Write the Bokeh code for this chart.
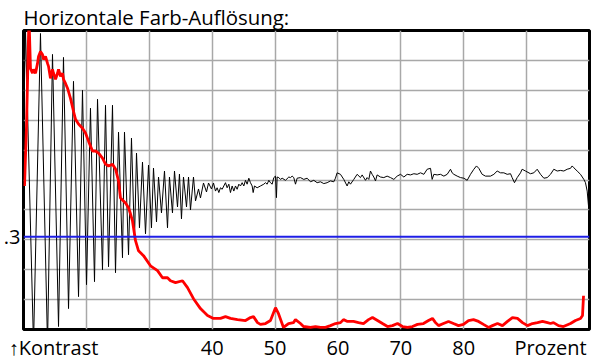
from bokeh.plotting import figure
from bokeh.models import Grid, FixedTicker, Span
from bokeh.embed import file_html
from bokeh.resources import INLINE

# ---- data (percent, contrast 0..1) ----
signal_x = [10.00, 10.32, 11.59, 12.70, 13.82, 14.61, 15.57, 16.36, 17.16, 17.95, 18.75, 19.38,
            20.02, 20.65, 21.29, 21.77, 22.56, 23.04, 23.52, 24.15, 24.63, 25.11, 25.74, 26.06,
            26.70, 27.17, 27.65, 27.97, 28.44, 28.92, 29.40, 29.88, 30.35, 30.67, 31.15, 31.47,
            31.94, 32.42, 32.90, 33.21, 33.69, 34.01, 34.49, 34.80, 35.12, 35.44, 35.92, 36.24,
            36.55, 37.03, 37.35, 37.83, 38.14, 38.62, 39.10, 39.42, 39.89, 40.21,
            40.53, 40.79, 41.06, 41.32, 41.59, 41.85, 42.12, 42.38, 42.65, 42.91, 43.18, 43.44,
            43.71, 43.97, 44.24, 44.50, 44.77, 45.03, 45.30, 45.56, 45.83, 46.09, 46.36, 46.52,
            46.73, 47.15, 47.68, 48.21, 48.48, 48.74, 49.01, 49.27, 49.54, 49.80, 50.07, 50.22,
            50.33, 50.60, 50.86, 51.13, 51.66, 52.19, 52.45, 52.72, 52.98, 53.25, 53.51, 54.04,
            54.57, 55.10, 55.63, 56.16, 56.69, 57.22, 57.75, 58.28, 58.81, 59.34, 59.60, 59.87,
            60.40, 60.93, 61.46, 61.73, 61.99, 62.52, 63.05, 63.58, 63.85, 64.38, 64.64, 64.91,
            65.17, 65.44, 65.70, 65.97, 66.23, 66.76, 67.29, 67.82,
            68.36, 68.89, 69.42, 69.95, 70.48, 71.01, 71.54, 72.07, 72.60, 73.13, 73.66, 74.19,
            74.72, 74.98, 75.25, 75.78, 76.31, 76.84, 77.37, 77.90, 78.16, 78.43, 78.96, 79.49,
            80.02, 80.55, 81.08, 81.61, 82.03, 82.40, 82.93, 83.46, 84.26, 84.79, 85.32, 85.85,
            86.38, 86.91, 87.44, 87.70, 88.07, 88.50, 89.03, 89.29, 89.82, 90.62, 91.15, 91.68,
            92.21, 92.74, 93.27, 93.80, 94.33, 94.86, 95.39, 95.92, 96.45, 96.98, 97.24, 97.51,
            98.04, 98.57, 99.10, 99.36, 99.63, 99.89]
signal_y = [0.66, 1.00, -0.05, 0.99, -0.05, 0.92, 0.01, 0.91, 0.07, 0.83, 0.11, 0.80,
            0.15, 0.74, 0.16, 0.77, 0.20, 0.75, 0.21, 0.75, 0.19, 0.66, 0.24, 0.66,
            0.25, 0.64, 0.30, 0.59, 0.34, 0.56, 0.32, 0.55, 0.34, 0.54, 0.36, 0.51,
            0.39, 0.53, 0.34, 0.51, 0.39, 0.53, 0.41, 0.52, 0.37, 0.51, 0.41, 0.51,
            0.40, 0.51, 0.43, 0.47, 0.44, 0.49, 0.46, 0.49, 0.47, 0.49,
            0.463, 0.474, 0.458, 0.474, 0.469, 0.480, 0.491, 0.474, 0.486, 0.458, 0.480, 0.463,
            0.480, 0.469, 0.486, 0.480, 0.491, 0.480, 0.499, 0.486, 0.506, 0.491, 0.480, 0.458,
            0.480, 0.474, 0.480, 0.486, 0.491, 0.486, 0.499, 0.491, 0.486, 0.508, 0.513, 0.441,
            0.510, 0.508, 0.502, 0.506, 0.499, 0.510, 0.508, 0.513, 0.508, 0.486, 0.506, 0.508,
            0.502, 0.506, 0.494, 0.499, 0.491, 0.494, 0.488, 0.491, 0.497, 0.494, 0.506, 0.524,
            0.519, 0.502, 0.480, 0.494, 0.486, 0.502, 0.519, 0.508, 0.517, 0.499, 0.508, 0.502,
            0.530, 0.519, 0.510, 0.497, 0.517, 0.510, 0.508, 0.513,
            0.508, 0.502, 0.513, 0.519, 0.510, 0.519, 0.517, 0.521, 0.519, 0.524, 0.519, 0.536,
            0.539, 0.502, 0.519, 0.517, 0.519, 0.513, 0.519, 0.536, 0.524, 0.519, 0.513, 0.508,
            0.506, 0.499, 0.519, 0.536, 0.547, 0.539, 0.519, 0.513, 0.513, 0.519, 0.530, 0.524,
            0.524, 0.519, 0.521, 0.508, 0.491, 0.508, 0.524, 0.536, 0.530, 0.521, 0.524, 0.536,
            0.519, 0.506, 0.508, 0.519, 0.536, 0.530, 0.532, 0.530, 0.536, 0.539, 0.547, 0.541,
            0.530, 0.519, 0.502, 0.491, 0.463, 0.402]

color_x = [10.16, 10.48, 10.87, 11.11, 11.43, 11.59, 11.91, 12.23, 12.39, 12.70, 13.02, 13.18,
           13.50, 13.82, 13.98, 14.29, 14.61, 14.77, 15.09, 15.41, 15.57, 15.88, 16.20, 16.36,
           16.68, 17.00, 17.47, 17.95, 18.27, 18.75, 19.38, 19.86, 20.34, 20.97, 21.45, 21.93,
           22.56, 23.04, 23.52, 24.15, 24.63, 25.11, 25.42, 26.22, 26.70, 27.01, 27.33, 27.81,
           28.29, 29.08, 30.19, 31.31, 32.10, 32.90, 33.37, 34.17, 35.28, 36.08, 37.03, 38.14,
           39.26, 40.21, 41.32, 42.12, 42.91, 44.03, 45.30, 46.09, 46.57, 47.21, 47.68, 48.48,
           49.27, 50.07, 50.55, 51.34, 52.14, 52.93, 53.25, 54.04, 54.52, 55.63, 56.43, 57.22,
           58.02, 58.81, 59.61, 60.41, 60.88, 61.52, 62.47, 63.27, 64.06, 64.86, 65.49, 66.29,
           67.08, 67.88, 68.67, 69.47, 70.26, 71.06, 71.85, 72.65, 73.60, 74.40, 75.03, 75.51,
           75.99, 76.78, 77.58, 78.37, 79.17, 79.96, 80.76, 81.55, 82.35, 83.14, 83.94, 84.57,
           85.37, 86.16, 86.96, 87.75, 88.55, 89.34, 90.14, 90.93, 91.73, 92.53, 93.32, 93.80,
           94.27, 95.07, 95.86, 96.98, 97.77, 98.57, 98.89, 99.05]
color_y = [0.480, 0.680, 1.047, 0.873, 0.857, 0.870, 0.857, 0.890, 0.913, 0.930, 0.920, 0.903,
           0.913, 0.890, 0.880, 0.840, 0.870, 0.857, 0.837, 0.857, 0.870, 0.847, 0.857, 0.837,
           0.823, 0.807, 0.773, 0.730, 0.703, 0.687, 0.673, 0.657, 0.630, 0.597, 0.597, 0.590,
           0.573, 0.553, 0.547, 0.553, 0.537, 0.497, 0.440, 0.423, 0.407, 0.387, 0.363, 0.297,
           0.263, 0.247, 0.213, 0.197, 0.173, 0.173, 0.163, 0.157, 0.163, 0.140, 0.103, 0.070,
           0.047, 0.037, 0.037, 0.043, 0.037, 0.033, 0.030, 0.040, 0.043, 0.023, 0.017, 0.020,
           0.030, 0.073, 0.053, 0.007, 0.020, 0.023, 0.033, 0.020, 0.010, 0.007, 0.010, 0.007,
           0.007, 0.013, 0.020, 0.023, 0.033, 0.027, 0.027, 0.023, 0.020, 0.033, 0.040, 0.030,
           0.020, 0.010, 0.013, 0.020, 0.010, 0.007, 0.010, 0.017, 0.020, 0.030, 0.037, 0.023,
           0.013, 0.020, 0.027, 0.020, 0.013, 0.017, 0.030, 0.033, 0.027, 0.017, 0.007, 0.013,
           0.020, 0.013, 0.027, 0.040, 0.037, 0.023, 0.013, 0.020, 0.023, 0.027, 0.023, 0.020,
           0.023, 0.013, 0.010, 0.020, 0.030, 0.037, 0.047, 0.113]

threshold = 0.31
threshold_label = ".3"
x_ticks = [14.77, 40, 50, 60, 70, 80, 93.8]
x_tick_labels = ["\u2191Kontrast", "40", "50", "60", "70", "80", "Prozent"]
x_grid = [20, 30, 40, 50, 60, 70, 80, 90]
y_grid = [0.1, 0.2, 0.3, 0.4, 0.5, 0.6, 0.7, 0.8, 0.9]
title_text = "Horizontale Farb-Auflösung:"

FONT = "Open Sans"
FS = "20px"

p = figure(width=600, height=364, x_range=(10, 100), y_range=(0, 1),
           title=title_text,
           output_backend="svg", toolbar_location=None,
           min_border_left=23, min_border_right=11, min_border_top=29, min_border_bottom=35)
p.background_fill_color = "white"
p.border_fill_color = "white"
p.outline_line_color = "black"
p.outline_line_width = 3

p.title.text_font = FONT
p.title.text_font_size = "20.4px"
p.title.text_font_style = "normal"
p.title.text_color = "black"
p.title.align = "left"
p.title.offset = 0
p.title.standoff = 0

p.xgrid.visible = False
p.ygrid.visible = False
p.add_layout(Grid(dimension=0, ticker=FixedTicker(ticks=x_grid),
                  grid_line_color="#a8a8a8", grid_line_width=1.5))
p.add_layout(Grid(dimension=1, ticker=FixedTicker(ticks=y_grid),
                  grid_line_color="#a8a8a8", grid_line_width=1.5))

for ax in (p.xaxis[0], p.yaxis[0]):
    ax.axis_line_color = None
    ax.major_tick_line_color = None
    ax.minor_tick_line_color = None
    ax.major_tick_out = 0
    ax.major_tick_in = 0
    ax.minor_tick_out = 0
    ax.minor_tick_in = 0
    ax.major_label_text_font = FONT
    ax.major_label_text_font_size = FS
    ax.major_label_text_color = "black"

p.xaxis[0].ticker = FixedTicker(ticks=x_ticks)
p.xaxis[0].major_label_overrides = {t: s for t, s in zip(x_ticks, x_tick_labels)}
p.xaxis[0].major_label_standoff = 4
p.yaxis[0].ticker = FixedTicker(ticks=[threshold])
p.yaxis[0].major_label_overrides = {threshold: threshold_label}
p.yaxis[0].major_label_standoff = 3

p.line(signal_x, signal_y, line_color="black", line_width=1)
p.add_layout(Span(location=threshold, dimension="width", line_color="#1f1fe6", line_width=2))
p.line(color_x, color_y, line_color="#ff0000", line_width=2.8)

open("out.html", "w").write(file_html(p, INLINE))
